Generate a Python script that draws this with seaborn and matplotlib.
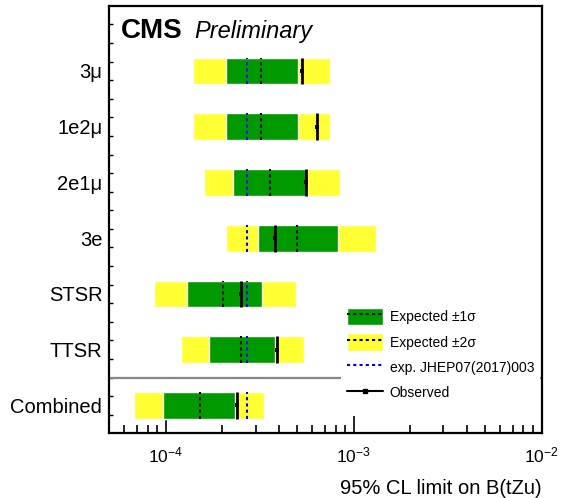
import numpy as np
import matplotlib
matplotlib.use("Agg")
import matplotlib.pyplot as plt
import seaborn as sns
from matplotlib.patches import Patch
from matplotlib.lines import Line2D
from matplotlib.ticker import LogLocator, NullFormatter

# channels, top to bottom
categories = ["3\u03bc", "1e2\u03bc", "2e1\u03bc", "3e", "STSR", "TTSR", "Combined"]

# 95% CL limits on B(tZu)
exp_minus2 = [1.40e-4, 1.40e-4, 1.60e-4, 2.10e-4, 8.6e-5, 1.20e-4, 6.8e-5]
exp_minus1 = [2.10e-4, 2.10e-4, 2.29e-4, 3.09e-4, 1.30e-4, 1.70e-4, 9.7e-5]
expected = [3.22e-4, 3.22e-4, 3.60e-4, 5.01e-4, 2.01e-4, 2.51e-4, 1.51e-4]
exp_plus1 = [5.05e-4, 5.05e-4, 5.62e-4, 8.24e-4, 3.23e-4, 3.83e-4, 2.32e-4]
exp_plus2 = [7.47e-4, 7.47e-4, 8.45e-4, 1.31e-3, 4.91e-4, 5.42e-4, 3.32e-4]
observed = [5.31e-4, 6.38e-4, 5.60e-4, 3.80e-4, 2.51e-4, 3.91e-4, 2.40e-4]
jhep_expected = [2.71e-4] * 7

GREEN = "#009900"
YELLOW = "#ffff33"
DASH = (0, (1.5, 1.5))

sns.set_style("ticks")
plt.rcParams["font.family"] = ["Liberation Sans", "DejaVu Sans"]
plt.rcParams["mathtext.fontset"] = "custom"
plt.rcParams["mathtext.rm"] = "Liberation Sans"
plt.rcParams["mathtext.it"] = "Liberation Sans:italic"
plt.rcParams["mathtext.bf"] = "Liberation Sans:bold"
for key in ["text.color", "axes.labelcolor", "xtick.color", "ytick.color"]:
    plt.rcParams[key] = "black"

fig = plt.figure(figsize=(5.63, 4.98), dpi=100)
ax = fig.add_axes([109.3 / 563, 1 - 433.3 / 498, 432.4 / 563, 427.6 / 498])
ax.set_xscale("log")

ypos = np.arange(len(categories))[::-1]
h = 0.48

lo2, hi2 = np.array(exp_minus2), np.array(exp_plus2)
lo1, hi1 = np.array(exp_minus1), np.array(exp_plus1)
ax.barh(ypos, hi2 - lo2, left=lo2, height=h, color=YELLOW, zorder=2)
ax.barh(ypos, hi1 - lo1, left=lo1, height=h, color=GREEN, zorder=3)

ax.vlines(expected, ypos - h / 2, ypos + h / 2, colors="black",
          linestyles=DASH, linewidth=1.5, zorder=4)
ax.vlines(jhep_expected, ypos - h / 2, ypos + h / 2, colors="blue",
          linestyles=DASH, linewidth=1.5, zorder=4)
ax.vlines(observed, ypos - h / 2, ypos + h / 2, colors="black",
          linewidth=2, zorder=5)
sns.scatterplot(x=observed, y=ypos, marker="s", color="black", s=12,
                linewidth=0, ax=ax, zorder=6)

# separator between channels and the combination
ax.axhline(0.5, color="#888888", linewidth=1.6, zorder=1)

ax.set_xlim(5e-5, 1e-2)
ax.set_ylim(-0.5, 7.17)

ax.set_yticks(ypos)
ax.set_yticklabels(categories)
ax.set_yticks(np.arange(-1 / 6, 7.1, 1 / 3), minor=True)
ax.tick_params(axis="y", which="major", length=0, pad=5, labelsize=14.5)
ax.tick_params(axis="y", which="minor", direction="in", length=3, width=1)

ax.xaxis.set_major_locator(LogLocator(base=10, numticks=10))
ax.xaxis.set_minor_locator(LogLocator(base=10, subs=np.arange(2, 10), numticks=20))
ax.xaxis.set_minor_formatter(NullFormatter())
ax.tick_params(axis="x", which="major", direction="in", length=12, width=1.2,
               pad=9, labelsize=12.5)
ax.tick_params(axis="x", which="minor", direction="in", length=6, width=1.2)

for sp in ax.spines.values():
    sp.set_linewidth(1.6)
    sp.set_color("black")
    sp.set_zorder(10)

ax.set_xlabel("95% CL limit on B(tZu)", fontsize=14.5)
ax.xaxis.set_label_coords(1.0, -0.128)
ax.xaxis.label.set_ha("right")
ax.xaxis.label.set_va("center")
ax.set_ylabel("")

ax.text(0.027, 0.924, "CMS", transform=ax.transAxes, fontsize=20,
        fontweight="bold", va="baseline", ha="left")
ax.text(0.196, 0.924, "Preliminary", transform=ax.transAxes, fontsize=17,
        fontstyle="italic", va="baseline", ha="left")

handles = [
    (Patch(facecolor=GREEN), Line2D([], [], color="black", linestyle=DASH, linewidth=1.5)),
    (Patch(facecolor=YELLOW), Line2D([], [], color="black", linestyle=DASH, linewidth=1.5)),
    Line2D([], [], color="blue", linestyle=DASH, linewidth=1.5),
    Line2D([], [], color="black", linewidth=1.5, marker="s", markersize=3),
]
labels = ["Expected \u00b11\u03c3", "Expected \u00b12\u03c3",
          "exp. JHEP07(2017)003", "Observed"]
leg = ax.legend(handles, labels, loc="upper left",
                bbox_to_anchor=(341 / 563, 1 - 302 / 498),
                bbox_transform=fig.transFigure, fontsize=10,
                frameon=True, fancybox=False, framealpha=1,
                handlelength=2.6, handleheight=1.6, handletextpad=0.5,
                labelspacing=0.55, borderpad=0.4, borderaxespad=0)
leg.get_frame().set_edgecolor("none")
leg.get_frame().set_facecolor("white")

fig.savefig("out.png", dpi=100)
